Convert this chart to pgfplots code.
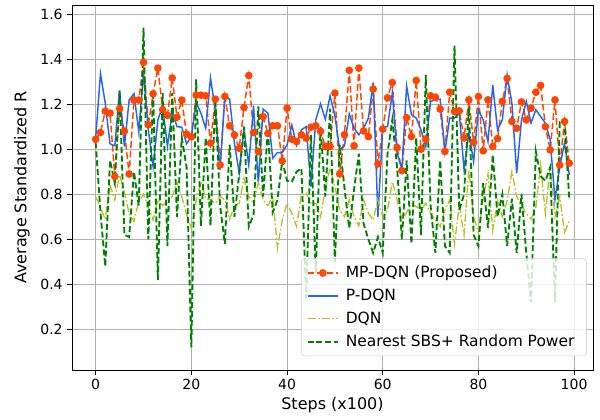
\documentclass[border=0pt]{standalone}
\usepackage{fontspec}
\setmainfont{DejaVu Sans}
\usepackage{pgfplots}
\usepackage{pgfplotstable}
\pgfplotsset{compat=1.18}
\definecolor{mpd}{RGB}{255,69,0}
\definecolor{pd}{RGB}{40,100,235}
\definecolor{dqn}{RGB}{188,189,34}
\definecolor{nsbs}{RGB}{0,128,0}
\definecolor{gridc}{RGB}{176,176,176}

\pgfplotstableread{
x mp p dqn near
0 1.044 1.049 0.79 1.03
1 1.074 1.335 0.74 0.72
2 1.169 1.204 0.69 0.48
3 1.160 1.024 0.84 0.95
4 0.879 1.015 0.775 0.85
5 1.180 1.261 0.886 1.26
6 1.080 1.012 0.81 0.62
7 0.890 1.219 0.715 0.61
8 1.218 1.246 0.68 0.90
9 1.218 1.079 0.77 0.75
10 1.385 1.338 0.80 1.54
11 1.108 1.086 0.745 0.60
12 1.246 0.923 0.686 1.26
13 1.360 1.130 0.775 0.42
14 1.175 1.190 0.75 1.25
15 1.150 1.012 0.77 0.57
16 1.316 1.167 0.79 1.25
17 1.142 1.100 0.85 0.70
18 1.218 1.098 0.79 1.05
19 1.067 1.024 0.71 0.92
20 1.055 1.056 0.65 0.12
21 1.240 1.207 0.77 1.31
22 1.240 1.160 0.856 0.66
23 1.237 1.093 0.78 1.05
24 1.027 1.316 0.775 0.66
25 1.222 1.175 0.76 1.22
26 0.930 0.908 0.79 0.75
27 1.234 1.237 0.775 0.58
28 1.104 1.222 0.69 1.02
29 1.064 1.027 0.745 0.70
30 1.004 0.893 0.76 0.89
31 1.185 1.086 0.87 1.10
32 1.327 0.930 0.79 0.656
33 1.074 1.193 0.76 0.71
34 0.990 0.849 0.85 1.19
35 1.145 1.178 0.775 0.79
36 1.070 1.160 0.75 1.09
37 1.104 0.960 0.79 0.72
38 1.104 0.985 0.56 0.775
39 0.948 0.985 0.686 0.95
40 1.182 1.019 0.76 0.86
41 1.044 1.107 0.715 0.856
42 1.034 1.019 0.656 0.90
43 1.064 1.086 0.80 0.915
44 1.049 1.100 0.805 0.34
45 1.098 0.834 0.76 1.064
46 1.104 1.130 0.76 0.45
47 1.079 1.201 0.70 1.10
48 1.012 1.133 0.82 0.79
49 1.012 1.237 0.916 1.18
50 1.249 1.150 0.834 0.50
51 0.890 0.997 0.73 1.02
52 1.064 1.015 0.70 0.83
53 1.350 1.157 0.775 0.65
54 1.015 1.093 0.70 0.82
55 1.360 1.064 0.66 0.98
56 1.081 1.093 0.775 0.67
57 1.056 1.138 0.716 0.60
58 1.267 1.296 0.686 0.54
59 0.935 0.700 0.775 0.61
60 1.089 1.098 0.70 0.54
61 1.228 1.100 0.73 0.98
62 1.296 1.250 0.856 1.13
63 1.007 0.982 0.775 0.92
64 0.905 0.911 0.686 0.60
65 1.140 1.279 0.72 0.95
66 1.056 1.153 0.76 0.58
67 1.305 1.138 0.745 1.05
68 1.000 1.086 0.73 0.62
69 1.044 1.012 0.76 1.33
70 1.237 1.212 0.716 0.75
71 1.231 1.219 0.686 0.54
72 1.178 1.222 0.656 0.95
73 0.990 0.990 0.73 0.57
74 1.253 1.138 0.775 0.54
75 1.167 1.138 0.58 1.46
76 1.170 1.160 0.75 0.73
77 1.050 0.908 0.62 0.80
78 1.219 1.071 0.91 1.19
79 1.031 0.945 0.70 0.62
80 1.234 1.175 0.63 0.57
81 0.993 1.130 0.78 0.85
82 1.219 1.034 0.89 0.65
83 1.012 1.284 0.64 0.975
84 1.047 1.086 0.77 0.70
85 1.212 1.130 0.70 0.80
86 1.314 1.330 0.77 0.57
87 1.123 1.204 0.90 0.78
88 1.093 0.893 0.79 0.54
89 1.210 1.130 0.745 0.80
90 1.130 1.212 0.716 0.54
91 1.182 1.116 0.69 0.32
92 1.253 1.175 0.74 0.99
93 1.283 1.145 0.93 0.88
94 1.100 1.116 0.716 0.86
95 0.997 1.041 0.92 0.92
96 1.219 0.775 0.70 0.32
97 0.930 0.923 0.79 1.12
98 1.123 1.027 0.63 1.12
99 0.938 0.886 0.68 0.78
}\datatable

\begin{document}
\begin{tikzpicture}
\useasboundingbox (0,0) rectangle (450pt,314.25pt);
\begin{axis}[
  at={(54pt,36.75pt)}, anchor=south west,
  scale only axis, width=390.75pt, height=273.75pt,
  xmin=-4.95, xmax=103.95, ymin=0.02, ymax=1.64,
  xtick={0,20,40,60,80,100},
  ytick={0.2,0.4,0.6,0.8,1.0,1.2,1.4,1.6},
  yticklabel style={/pgf/number format/.cd, fixed, fixed zerofill, precision=1},
  /pgf/number format/assume math mode=true,
  ticklabel style={font=\fontsize{10.5}{12}\selectfont},
  tick align=outside, major tick length=3.5pt,
  tick style={black, line width=0.6pt},
  xtick pos=bottom, ytick pos=left,
  grid=major, major grid style={gridc, line width=0.6pt},
  axis line style={black, line width=0.6pt},
  xlabel={Steps (x100)}, ylabel={Average Standardized R},
  label style={font=\fontsize{12}{14}\selectfont},
  xlabel style={at={(axis description cs:0.5,-0.095)}, anchor=center},
  ylabel style={at={(axis description cs:-0.096,0.5)}, anchor=center},
  legend cell align=left,
  legend style={at={(0.988,0.038)}, anchor=south east,
    font=\fontsize{11.6}{13.5}\selectfont,
    fill=white, fill opacity=0.8, text opacity=1, draw opacity=1,
    draw=gray!35, rounded corners=2.5pt, row sep=3pt,
    inner xsep=4pt, inner ysep=3.5pt,
    nodes={inner xsep=5pt}},
  legend image code/.code={\draw[mark repeat=2,mark phase=2,#1] plot coordinates {(0pt,0pt) (11.5pt,0pt) (23pt,0pt)};},
]
\addplot[mpd, dash pattern=on 5pt off 2.2pt, line width=1.1pt, mark=*, mark size=2.3pt, mark options={solid}] table[x=x,y=mp] {\datatable};
\addlegendentry{MP-DQN (Proposed)}
\addplot[pd, solid, line width=1.1pt] table[x=x,y=p] {\datatable};
\addlegendentry{P-DQN}
\addplot[dqn, dash pattern=on 6pt off 1.8pt on 1.2pt off 1.8pt, line width=1.0pt] table[x=x,y=dqn] {\datatable};
\addlegendentry{DQN}
\addplot[nsbs, dash pattern=on 4.5pt off 2.2pt, line width=1.4pt] table[x=x,y=near] {\datatable};
\addlegendentry{Nearest SBS+ Random Power}
\end{axis}
\end{tikzpicture}
\end{document}
